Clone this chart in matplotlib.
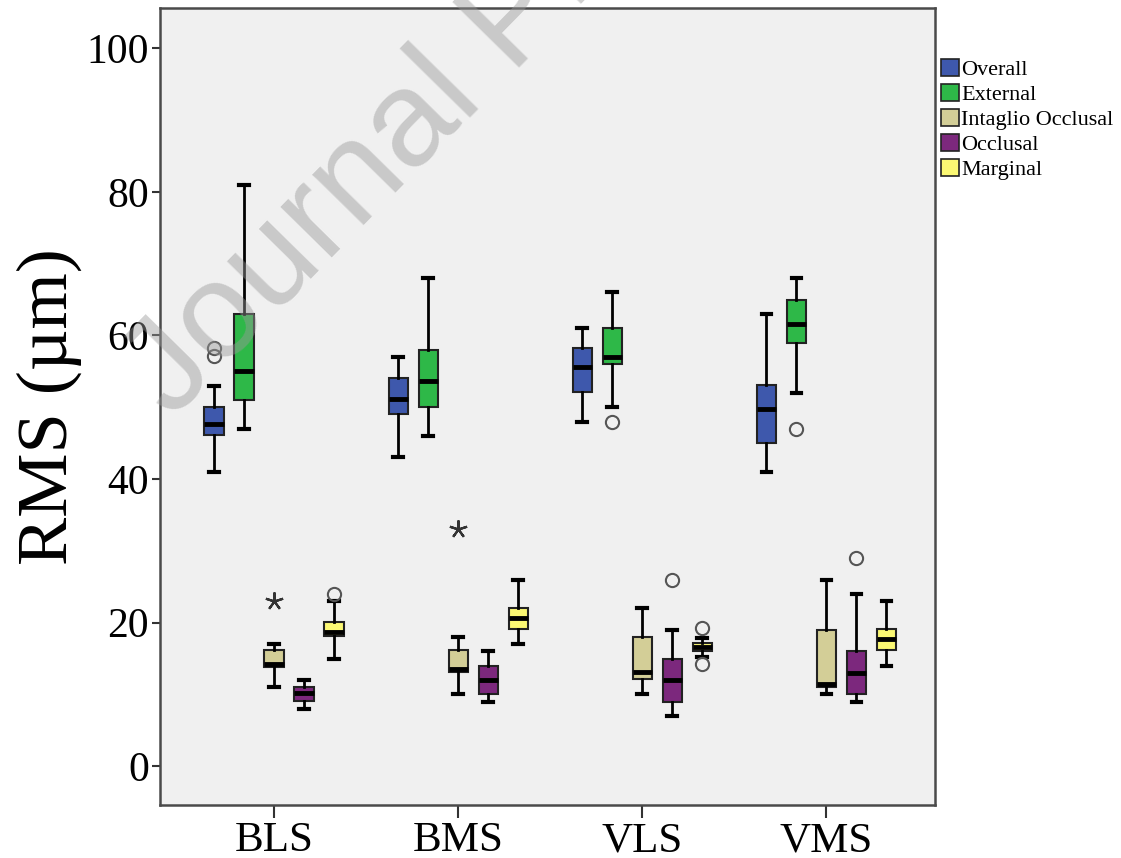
import numpy as np
import matplotlib
matplotlib.use("Agg")
import matplotlib.pyplot as plt
from matplotlib.patches import Patch

groups = ["BLS", "BMS", "VLS", "VMS"]
series = ["Overall", "External", "Intaglio Occlusal", "Occlusal", "Marginal"]
colors = ["#3E58AC", "#2EB848", "#D3CE97", "#7C287D", "#FBF873"]

# per series: values for BLS, BMS, VLS, VMS
q1 = [[46.1, 49.0, 52.1, 45.0],
      [51.0, 50.0, 56.0, 59.0],
      [13.8, 13.1, 12.1, 11.0],
      [9.1, 10.0, 8.9, 10.0],
      [18.1, 19.1, 16.0, 16.2]]
med = [[47.6, 51.2, 55.6, 49.7],
       [55.0, 53.6, 57.0, 61.6],
       [14.2, 13.6, 13.1, 11.5],
       [10.2, 12.0, 12.0, 13.0],
       [18.7, 20.6, 16.6, 17.7]]
q3 = [[50.0, 54.0, 58.2, 53.1],
      [63.0, 58.0, 61.0, 65.0],
      [16.2, 16.2, 18.0, 19.0],
      [11.0, 14.0, 15.0, 16.1],
      [20.1, 22.0, 17.1, 19.1]]
whislo = [[41, 43, 48, 41],
          [47, 46, 50, 52],
          [11, 10, 10, 10],
          [8, 9, 7, 9],
          [15, 17, 15.2, 14]]
whishi = [[53, 57, 61, 63],
          [81, 68, 66, 68],
          [17, 18, 22, 26],
          [12, 16, 19, 24],
          [23, 26, 17.8, 23]]
outliers = [[[57.2, 58.3], [], [], []],
            [[], [], [48], [47]],
            [[], [], [], []],
            [[], [], [26], [29]],
            [[24], [], [19.2, 14.2], []]]
extremes = [[[], [], [], []],
            [[], [], [], []],
            [[23], [33], [], []],
            [[], [], [], []],
            [[], [], [], []]]

plt.rcParams["font.family"] = ["Liberation Serif", "DejaVu Serif"]

fig = plt.figure(figsize=(11.21, 8.58), dpi=100)
ax = fig.add_axes([160/1121, 1-805/858, 775/1121, 797/858])
ax.set_facecolor("#F0F0F0")

step = 0.163
width = 0.105
base = np.arange(len(groups))
for i, name in enumerate(series):
    pos = base + (i - 2) * step
    stats = []
    for j in range(len(groups)):
        stats.append(dict(med=med[i][j], q1=q1[i][j], q3=q3[i][j],
                          whislo=whislo[i][j], whishi=whishi[i][j],
                          fliers=np.array(outliers[i][j])))
    ax.bxp(stats, positions=pos, widths=width, capwidths=width*0.5,
           patch_artist=True, manage_ticks=False,
           boxprops=dict(facecolor=colors[i], edgecolor="#222222", linewidth=1.5),
           medianprops=dict(color="black", linewidth=3.5, solid_capstyle="butt"),
           whiskerprops=dict(color="black", linewidth=2),
           capprops=dict(color="black", linewidth=3),
           flierprops=dict(marker="o", markerfacecolor="none",
                           markeredgecolor="#555555", markersize=9.5,
                           markeredgewidth=1.5))
    for j in range(len(groups)):
        if extremes[i][j]:
            ax.plot([pos[j]] * len(extremes[i][j]), extremes[i][j],
                    linestyle="none", marker=(5, 2, 0), markersize=13,
                    markeredgewidth=1.6, color="#333333")

ax.set_xlim(-0.62, 3.59)
ax.set_ylim(-5.4, 105.6)
ax.set_yticks([0, 20, 40, 60, 80, 100])
ax.set_xticks(base)
ax.set_xticklabels(groups)
ax.tick_params(axis="y", labelsize=30, length=6, width=1.5, pad=2, color="#333333")
ax.tick_params(axis="x", labelsize=31, length=9, width=1.5, pad=3, color="#333333")
for s in ax.spines.values():
    s.set_color("#4a4a4a")
    s.set_linewidth(1.8)

ax.set_ylabel("RMS (µm)", fontsize=52)
ax.yaxis.set_label_coords(-0.1, 0.5)

handles = [Patch(facecolor=c, edgecolor="#222222", linewidth=1.2) for c in colors]
fig.legend(handles, series, loc="upper left", bbox_to_anchor=(941/1121, 1-59/858),
           frameon=False, fontsize=16, handlelength=0.8, handleheight=0.8,
           handletextpad=0.1, labelspacing=0.17, borderpad=0, borderaxespad=0)

# watermark
fig.text(172/1121, 1-420/858, "Journal Pre-proof", fontsize=98, rotation=45.5,
         rotation_mode="anchor", ha="left", va="baseline",
         family="Liberation Sans", color="#9a9a9a", alpha=0.45, zorder=10)

fig.savefig("out.png", dpi=100)
